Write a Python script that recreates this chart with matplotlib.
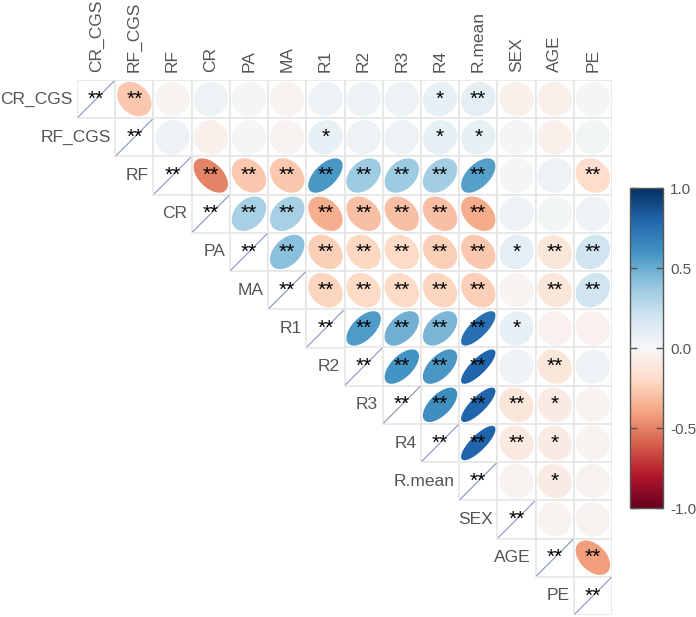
import numpy as np
import matplotlib
matplotlib.use("Agg")
import matplotlib.pyplot as plt
from matplotlib.patches import Polygon, Rectangle
from matplotlib.colors import Normalize
from matplotlib.cm import ScalarMappable

plt.rcParams['font.family'] = ['Liberation Sans', 'DejaVu Sans']

# variable names
labels = ["CR_CGS", "RF_CGS", "RF", "CR", "PA", "MA", "R1", "R2", "R3", "R4",
          "R.mean", "SEX", "AGE", "PE"]

# upper triangle, row by row (values right of the diagonal)
r_CR_CGS = [-0.27, -0.02, 0.05, 0.02, -0.03, 0.06, 0.05, 0.05, 0.08, 0.10, -0.05, -0.05, 0.02]
r_RF_CGS = [0.06, -0.05, 0.02, -0.03, 0.08, 0.05, 0.05, 0.08, 0.08, 0.02, -0.05, 0.03]
r_RF = [-0.50, -0.27, -0.27, 0.58, 0.36, 0.36, 0.35, 0.55, 0.02, 0.05, -0.18]
r_CR = [0.33, 0.33, -0.36, -0.30, -0.30, -0.30, -0.37, 0.05, 0.03, 0.04]
r_PA = [0.42, -0.24, -0.21, -0.20, -0.24, -0.27, 0.10, -0.12, 0.20]
r_MA = [-0.22, -0.20, -0.20, -0.22, -0.25, -0.02, -0.12, 0.20]
r_R1 = [0.57, 0.48, 0.46, 0.75, 0.08, -0.04, -0.04]
r_R2 = [0.60, 0.58, 0.80, 0.04, -0.12, 0.04]
r_R3 = [0.62, 0.80, -0.12, -0.08, -0.03]
r_R4 = [0.80, -0.10, -0.08, -0.03]
r_Rmean = [-0.03, -0.08, -0.03]
r_SEX = [-0.03, -0.03]
r_AGE = [-0.42]
r_PE = []

# significance marks, same layout
s_CR_CGS = ["**", "", "", "", "", "", "", "", "*", "**", "", "", ""]
s_RF_CGS = ["", "", "", "", "*", "", "", "*", "*", "", "", ""]
s_RF = ["**", "**", "**", "**", "**", "**", "**", "**", "", "", "**"]
s_CR = ["**", "**", "**", "**", "**", "**", "**", "", "", ""]
s_PA = ["**", "**", "**", "**", "**", "**", "*", "**", "**"]
s_MA = ["**", "**", "**", "**", "**", "", "**", "**"]
s_R1 = ["**", "**", "**", "**", "*", "", ""]
s_R2 = ["**", "**", "**", "", "**", ""]
s_R3 = ["**", "**", "**", "*", ""]
s_R4 = ["**", "**", "*", ""]
s_Rmean = ["", "*", ""]
s_SEX = ["", ""]
s_AGE = ["**"]
s_PE = []

upper_r = [r_CR_CGS, r_RF_CGS, r_RF, r_CR, r_PA, r_MA, r_R1, r_R2, r_R3, r_R4,
           r_Rmean, r_SEX, r_AGE, r_PE]
upper_s = [s_CR_CGS, s_RF_CGS, s_RF, s_CR, s_PA, s_MA, s_R1, s_R2, s_R3, s_R4,
           s_Rmean, s_SEX, s_AGE, s_PE]

n = len(labels)
cmap = plt.get_cmap("RdBu")
norm = Normalize(-1, 1)


def ellipse_pts(rho, scale=0.9, num=99):
    # same shape rule as corrplot's ellipse method
    k = np.linspace(0, 2 * np.pi, num)
    a = np.arccos(np.clip(rho, -1, 1))
    x = np.cos(k + a / 2) / 2
    y = np.cos(k - a / 2) / 2
    return scale * np.column_stack([x, y])


fig = plt.figure(figsize=(6.96, 6.17), dpi=100)
W, H = 696, 617
ax = fig.add_axes([77 / W, (617 - 615) / H, 535 / W, 535 / H])
ax.set_xlim(-0.5, n - 0.5)
ax.set_ylim(-0.5, n - 0.5)
ax.axis("off")

grid_col = "#e6e6e6"
star_kw = dict(ha="center", va="center", fontsize=15, zorder=4)
for i in range(n):
    yc = n - 1 - i
    # diagonal cell
    ax.add_patch(Rectangle((i - 0.5, yc - 0.5), 1, 1, fc="white", ec=grid_col, lw=1.2, zorder=1))
    ax.plot([i - 0.47, i + 0.47], [yc - 0.47, yc + 0.47], color="#8595bb", lw=0.8, zorder=2)
    ax.text(i, yc, "**", **star_kw)
    # row label
    ax.text(i - 0.62, yc, labels[i], ha="right", va="center", fontsize=12.5, color="#555555")
    for j_off, (r, s) in enumerate(zip(upper_r[i], upper_s[i])):
        j = i + 1 + j_off
        ax.add_patch(Rectangle((j - 0.5, yc - 0.5), 1, 1, fc="white", ec=grid_col, lw=1.2, zorder=1))
        pts = ellipse_pts(r) + np.array([j, yc])
        ax.add_patch(Polygon(pts, closed=True, fc=cmap(norm(r)), ec="none", zorder=2))
        if s:
            ax.text(j, yc, s, **star_kw)

# column labels
for j in range(n):
    ax.text(j, n - 0.5 + 0.2, labels[j], ha="center", va="bottom", rotation=90,
            fontsize=12.5, color="#555555", clip_on=False)

# colorbar
cax = fig.add_axes([630 / W, (617 - 508) / H, 33 / W, 320 / H])
cb = fig.colorbar(ScalarMappable(norm=norm, cmap=cmap), cax=cax)
cb.set_ticks([-1.0, -0.5, 0.0, 0.5, 1.0])
cb.set_ticklabels(["-1.0", "-0.5", "0.0", "0.5", "1.0"])
cax.tick_params(axis="y", direction="in", length=5, width=1, colors="#555555",
                left=True, right=True, labelsize=11, labelcolor="#555555", pad=5)
cb.outline.set_edgecolor("#555555")
cb.outline.set_linewidth(1)

fig.savefig("out.png", dpi=100)
